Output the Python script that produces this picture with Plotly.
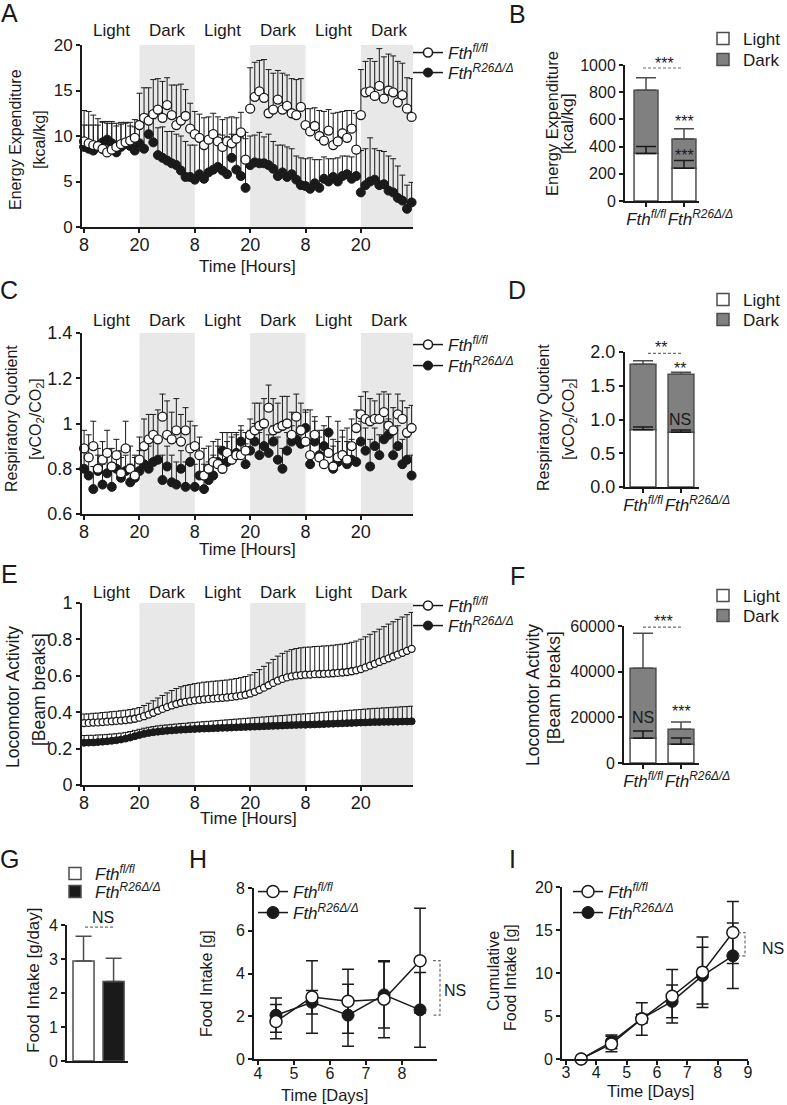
import plotly.graph_objects as go

W, H = 787, 1105
FONT = "Liberation Sans, Arial, sans-serif"
INK = "#1a1a1a"
BAR_EDGE = "#4d4d4d"

# ---- time course panels (A, C, E) ----
hours = list(range(72))
hour_ticks = [0, 12, 24, 36, 48, 60]
hour_labels = ["8", "20", "8", "20", "8", "20"]
phase_mid = [6, 18, 30, 42, 54, 66]
phase_names = ["Light", "Dark", "Light", "Dark", "Light", "Dark"]
dark_spans = [(12, 24), (36, 48), (60, 72)]

ee_open = [9.4, 9.2, 9.0, 8.9, 8.6, 8.2, 8.5, 8.8, 9.1, 9.3, 9.5, 9.8,
           11.2, 12.0, 11.7, 12.4, 12.9, 12.0, 13.4, 12.3, 11.2, 11.7, 12.2, 10.8,
           10.2, 9.8, 9.0, 9.6, 10.2, 9.4, 8.8, 9.4, 9.2, 9.7, 10.4, 7.4,
           13.0, 14.3, 14.9, 14.2, 12.5, 12.9, 14.0, 12.9, 13.3, 12.5, 12.3, 13.2,
           11.2, 10.5, 11.1, 10.0, 9.5, 10.6, 9.0, 9.4, 10.3, 9.8, 10.8, 8.5,
           12.3, 14.8, 14.9, 14.4, 15.5, 14.1, 15.0, 14.8, 13.7, 14.5, 13.0, 12.1]
ee_open_err = [3.4, 3.5, 3.3, 3.0, 3.0, 3.2, 2.9, 2.6, 2.4, 2.2, 2.0, 2.0,
               3.5, 3.3, 3.6, 3.8, 3.4, 4.0, 3.0, 3.3, 4.4, 4.0, 2.9, 2.8,
               2.5, 2.6, 3.0, 2.5, 2.3, 2.7, 3.0, 2.6, 2.9, 2.3, 2.2, 3.0,
               4.5, 3.8, 3.4, 4.2, 4.8, 4.0, 3.2, 4.0, 3.4, 3.8, 3.9, 3.1,
               1.8, 2.5, 2.0, 2.8, 3.2, 2.3, 3.5, 3.2, 2.4, 3.0, 2.0, 4.0,
               5.0, 3.4, 3.6, 3.8, 4.1, 4.6, 4.0, 4.0, 4.5, 3.5, 3.4, 4.2]
ee_fill = [8.8, 8.6, 8.4, 8.9, 9.3, 9.6, 9.2, 8.2, 8.8, 9.1, 8.9, 8.4,
           9.2, 8.6, 10.2, 9.3, 7.9, 7.6, 7.3, 7.0, 6.8, 6.2, 5.5, 5.5,
           5.2, 5.8, 5.3, 6.0, 6.3, 6.6, 6.2, 5.8, 7.6, 6.3, 5.6, 4.3,
           6.8, 7.1, 7.0, 7.0, 6.8, 6.4, 5.6, 6.0, 5.5, 5.8, 5.2, 4.6,
           4.5, 4.2, 4.8, 4.3, 5.3, 5.0, 5.5, 5.0, 5.6, 5.8, 5.3, 5.6,
           3.8, 4.6, 5.0, 5.2, 4.6, 4.7, 4.0, 3.8, 3.2, 2.9, 2.0, 2.7]
ee_fill_err = [2.4, 2.6, 2.8, 2.3, 2.2, 2.0, 2.4, 2.9, 2.5, 2.3, 2.2, 2.6,
               2.5, 3.0, 2.2, 2.6, 3.0, 3.4, 3.2, 3.5, 3.4, 3.8, 3.9, 3.5,
               3.8, 3.6, 4.0, 3.5, 3.4, 3.6, 3.9, 4.1, 2.6, 3.8, 4.2, 5.4,
               3.2, 3.0, 3.4, 2.9, 3.4, 3.0, 3.4, 3.0, 3.3, 2.8, 2.6, 3.0,
               3.0, 3.4, 2.6, 3.1, 2.4, 2.5, 2.0, 2.6, 2.2, 2.0, 2.4, 2.5,
               4.6, 4.0, 4.8, 3.4, 3.8, 3.6, 3.8, 3.7, 3.5, 2.8, 2.6, 2.2]

rq_open = [0.89, 0.85, 0.90, 0.80, 0.84, 0.87, 0.81, 0.86, 0.78, 0.89, 0.80, 0.77,
           0.84, 0.90, 0.93, 0.95, 0.93, 1.03, 0.95, 0.93, 0.97, 0.92, 0.97, 0.89,
           0.90, 0.86, 0.77, 0.80, 0.83, 0.82, 0.80, 0.87, 0.84, 0.86, 0.86, 0.88,
           0.95, 0.97, 0.99, 1.00, 1.07, 0.97, 0.98, 0.99, 1.00, 0.95, 1.03, 0.97,
           0.92, 0.86, 0.95, 0.85, 0.82, 0.87, 0.81, 0.85, 0.86, 0.84, 0.90, 0.98,
           1.04, 1.02, 1.01, 1.02, 1.02, 1.05, 0.99, 0.97, 1.04, 1.02, 0.96, 0.98]
rq_open_err = [0.08, 0.10, 0.11, 0.09, 0.08, 0.10, 0.08, 0.07, 0.10, 0.12, 0.10, 0.09,
               0.10, 0.12, 0.11, 0.09, 0.13, 0.10, 0.15, 0.12, 0.14, 0.12, 0.10, 0.12,
               0.09, 0.08, 0.12, 0.10, 0.09, 0.11, 0.08, 0.09, 0.12, 0.10, 0.11, 0.08,
               0.07, 0.12, 0.10, 0.11, 0.10, 0.14, 0.11, 0.13, 0.12, 0.10, 0.10, 0.12,
               0.13, 0.20, 0.08, 0.12, 0.15, 0.10, 0.12, 0.16, 0.11, 0.14, 0.12, 0.08,
               0.08, 0.12, 0.10, 0.08, 0.11, 0.09, 0.14, 0.10, 0.09, 0.08, 0.11, 0.10]
rq_fill = [0.80, 0.77, 0.71, 0.79, 0.73, 0.78, 0.72, 0.80, 0.76, 0.79, 0.74, 0.76,
           0.79, 0.82, 0.80, 0.83, 0.84, 0.75, 0.81, 0.74, 0.73, 0.80, 0.72, 0.83,
           0.72, 0.77, 0.71, 0.75, 0.77, 0.83, 0.88, 0.83, 0.84, 0.87, 0.92, 0.82,
           0.88, 0.92, 0.86, 0.90, 0.87, 0.92, 0.84, 0.80, 0.88, 0.92, 0.93, 0.91,
           0.98, 0.82, 0.92, 0.86, 0.90, 0.96, 0.80, 0.83, 0.86, 0.82, 0.84, 0.83,
           0.92, 0.88, 0.81, 0.90, 0.86, 0.93, 0.95, 0.86, 0.90, 0.82, 0.84, 0.77]
rq_fill_err = [0.08, 0.09, 0.10, 0.07, 0.09, 0.08, 0.10, 0.06, 0.09, 0.07, 0.08, 0.09,
               0.09, 0.08, 0.10, 0.09, 0.08, 0.11, 0.09, 0.12, 0.10, 0.08, 0.11, 0.07,
               0.10, 0.09, 0.11, 0.08, 0.09, 0.07, 0.08, 0.09, 0.10, 0.08, 0.07, 0.09,
               0.09, 0.08, 0.10, 0.09, 0.08, 0.07, 0.10, 0.09, 0.08, 0.07, 0.09, 0.08,
               0.08, 0.10, 0.09, 0.08, 0.09, 0.07, 0.10, 0.09, 0.08, 0.10, 0.09, 0.08,
               0.09, 0.10, 0.12, 0.08, 0.09, 0.08, 0.07, 0.10, 0.09, 0.11, 0.10, 0.09]

loco_open = [0.340, 0.341, 0.343, 0.344, 0.346, 0.348, 0.350, 0.352, 0.354, 0.357, 0.360, 0.364,
             0.370, 0.378, 0.387, 0.397, 0.408, 0.418, 0.428, 0.437, 0.445, 0.452, 0.457, 0.461,
             0.465, 0.468, 0.471, 0.473, 0.475, 0.477, 0.479, 0.481, 0.484, 0.487, 0.491, 0.496,
             0.503, 0.512, 0.523, 0.535, 0.548, 0.561, 0.573, 0.583, 0.591, 0.597, 0.601, 0.604,
             0.606, 0.607, 0.609, 0.610, 0.611, 0.612, 0.614, 0.616, 0.618, 0.621, 0.625, 0.630,
             0.637, 0.646, 0.656, 0.666, 0.676, 0.686, 0.696, 0.706, 0.716, 0.726, 0.737, 0.748]
loco_open_err = [0.050, 0.050, 0.051, 0.051, 0.052, 0.052, 0.053, 0.053, 0.054, 0.054, 0.055, 0.055,
                 0.056, 0.059, 0.062, 0.066, 0.070, 0.074, 0.078, 0.082, 0.085, 0.088, 0.090, 0.091,
                 0.092, 0.093, 0.094, 0.094, 0.095, 0.095, 0.096, 0.096, 0.097, 0.098, 0.099, 0.100,
                 0.102, 0.106, 0.111, 0.117, 0.123, 0.129, 0.135, 0.140, 0.144, 0.147, 0.149, 0.150,
                 0.151, 0.151, 0.152, 0.152, 0.153, 0.153, 0.154, 0.155, 0.156, 0.157, 0.159, 0.161,
                 0.164, 0.168, 0.172, 0.176, 0.180, 0.184, 0.188, 0.191, 0.194, 0.197, 0.199, 0.200]
loco_fill = [0.232, 0.233, 0.234, 0.236, 0.238, 0.240, 0.243, 0.246, 0.250, 0.255, 0.261, 0.268,
             0.275, 0.281, 0.286, 0.290, 0.293, 0.296, 0.298, 0.300, 0.302, 0.304, 0.305, 0.307,
             0.308, 0.309, 0.310, 0.311, 0.312, 0.313, 0.314, 0.315, 0.316, 0.317, 0.318, 0.319,
             0.320, 0.321, 0.322, 0.323, 0.324, 0.325, 0.326, 0.327, 0.328, 0.329, 0.330, 0.331,
             0.331, 0.332, 0.333, 0.334, 0.335, 0.336, 0.337, 0.338, 0.339, 0.340, 0.341, 0.342,
             0.343, 0.344, 0.345, 0.346, 0.346, 0.347, 0.347, 0.348, 0.348, 0.349, 0.349, 0.350]
loco_fill_err = [0.040, 0.040, 0.039, 0.039, 0.038, 0.038, 0.037, 0.036, 0.035, 0.034, 0.033, 0.032,
                 0.031, 0.031, 0.031, 0.031, 0.032, 0.032, 0.032, 0.033, 0.033, 0.034, 0.034, 0.035,
                 0.036, 0.037, 0.038, 0.039, 0.040, 0.041, 0.042, 0.043, 0.044, 0.045, 0.046, 0.047,
                 0.048, 0.049, 0.050, 0.051, 0.052, 0.053, 0.054, 0.055, 0.056, 0.057, 0.058, 0.059,
                 0.060, 0.061, 0.062, 0.063, 0.064, 0.065, 0.066, 0.067, 0.068, 0.069, 0.070, 0.071,
                 0.072, 0.073, 0.074, 0.075, 0.076, 0.077, 0.078, 0.079, 0.080, 0.081, 0.082, 0.083]

# ---- stacked totals (B, D, F): [fl/fl, R26] ----
genotypes = ["<i>Fth<sup>fl/fl</sup></i>", "<i>Fth<sup>R26Δ/Δ</sup></i>"]
bar_ticks = [genotypes[0], "\u00a0" * 7 + genotypes[1]]
ee_light, ee_light_err = [350, 240], [50, 57]
ee_dark, ee_dark_err = [465, 216], [92, 76]
rq_light, rq_light_err = [0.85, 0.81], [0.04, 0.035]
rq_dark, rq_dark_err = [0.97, 0.86], [0.05, 0.03]
loco_light, loco_light_err = [10800, 8200], [3200, 2700]
loco_dark, loco_dark_err = [30700, 6600], [15300, 3200]

# ---- food intake (G, H, I) ----
food_daily = [2.94, 2.34]
food_daily_err = [0.73, 0.68]
days = [4.5, 5.5, 6.5, 7.5, 8.5]
food_open = [1.75, 2.9, 2.7, 2.8, 4.6]
food_open_err = [0.8, 1.7, 1.5, 1.8, 2.45]
food_fill = [2.05, 2.65, 2.05, 3.0, 2.3]
food_fill_err = [0.8, 0.55, 1.45, 1.55, 1.75]
cum_days = [3.5, 4.5, 5.5, 6.5, 7.5, 8.5]
cum_open = [0, 1.75, 4.65, 7.3, 10.1, 14.7]
cum_open_err = [0, 0.9, 1.9, 3.1, 4.1, 3.6]
cum_fill = [0, 2.0, 4.7, 6.7, 9.7, 12.0]
cum_fill_err = [0, 0.8, 0.5, 1.9, 3.3, 3.8]


def fx(p):
    return p / W


def fy(p):
    return 1 - p / H


def ax_names(n):
    s = "" if n == 1 else str(n)
    return "x" + s, "y" + s, "xaxis" + s, "yaxis" + s


def axis_style(size, standoff=0):
    return dict(showline=True, linecolor=INK, linewidth=2, ticks="outside", ticklen=4,
                tickwidth=2, tickcolor=INK, showgrid=False, zeroline=False,
                ticklabelstandoff=standoff,
                tickfont=dict(size=size, family=FONT, color=INK))


def note(text, x, y, size=16, angle=0, xanchor="center"):
    return dict(text=text, x=fx(x), y=fy(y), xref="paper", yref="paper", showarrow=False,
                textangle=angle, xanchor=xanchor, yanchor="middle",
                font=dict(size=size, family=FONT, color=INK))


fig = go.Figure()
layout = {}
annotations = []
shapes = []
legend_count = [0]


def legend_at(x_px, y_px, size=17):
    legend_count[0] += 1
    key = "legend" if legend_count[0] == 1 else "legend%d" % legend_count[0]
    layout[key] = dict(x=fx(x_px - 20), y=fy(y_px), xanchor="left", yanchor="middle",
                       bgcolor="rgba(0,0,0,0)", borderwidth=0,
                       font=dict(size=size, family=FONT, color=INK))
    return key


def open_marker(size, lw):
    return dict(size=size, color="white", line=dict(color=INK, width=lw))


def fill_marker(size):
    return dict(size=size, color=INK, line=dict(color=INK, width=1))


def time_panel(n, dom_x, dom_y, yrange, dtick, series, yfont, msize, phase_y, legend_y):
    xa, ya, xk, yk = ax_names(n)
    op, op_err, fl, fl_err = series
    zeros = [0] * len(hours)
    fig.add_trace(go.Scatter(x=hours, y=fl, mode="markers", marker=fill_marker(msize),
                             error_y=dict(type="data", symmetric=False, array=fl_err, arrayminus=zeros,
                                          color=INK, thickness=1, width=3),
                             xaxis=xa, yaxis=ya, showlegend=False, cliponaxis=False))
    fig.add_trace(go.Scatter(x=hours, y=op, mode="markers", marker=open_marker(msize, 1.3),
                             error_y=dict(type="data", symmetric=False, array=op_err, arrayminus=zeros,
                                          color=INK, thickness=1, width=3),
                             xaxis=xa, yaxis=ya, showlegend=False, cliponaxis=False))
    fig.add_trace(go.Scatter(x=[None], y=[None], mode="lines+markers", name=genotypes[0],
                             marker=open_marker(9, 1.5), line=dict(color=INK, width=1.5),
                             xaxis=xa, yaxis=ya, legend=legend_at(428, legend_y[0])))
    fig.add_trace(go.Scatter(x=[None], y=[None], mode="lines+markers", name=genotypes[1],
                             marker=fill_marker(9), line=dict(color=INK, width=1.5),
                             xaxis=xa, yaxis=ya, legend=legend_at(428, legend_y[1])))
    layout[xk] = dict(domain=[fx(dom_x[0]), fx(dom_x[1])], range=[-0.45, 71.3], anchor=ya,
                      tickvals=hour_ticks, ticktext=hour_labels, **axis_style(18, -4))
    layout[yk] = dict(domain=[fy(dom_y[1]), fy(dom_y[0])], range=yrange, dtick=dtick, anchor=xa,
                      **axis_style(yfont))
    for x0, x1 in dark_spans:
        shapes.append(dict(type="rect", xref=xa, yref=ya + " domain", x0=x0, x1=x1, y0=0, y1=1,
                           fillcolor="#e8e8e8", line=dict(width=0), layer="below"))
    for xm, label in zip(phase_mid, phase_names):
        annotations.append(dict(text=label, x=xm, y=fy(phase_y), xref=xa, yref="paper",
                                showarrow=False, yanchor="middle",
                                font=dict(size=17, family=FONT, color=INK)))


def stacked_panel(n, dom_x, dom_y, xrange, bar_w, light, light_err, dark, dark_err,
                  yrange, dtick, tickformat, yfont, legend_y):
    xa, ya, xk, yk = ax_names(n)
    fig.add_trace(go.Bar(x=[0, 1], y=dark, base=light, width=bar_w, name="Dark",
                         marker=dict(color="#808080", line=dict(color=BAR_EDGE, width=1.5)),
                         error_y=dict(type="data", symmetric=False, array=dark_err, arrayminus=[0, 0],
                                      color=BAR_EDGE, thickness=1.5, width=10),
                         xaxis=xa, yaxis=ya, legend=legend_at(723, legend_y[1])))
    fig.add_trace(go.Bar(x=[0, 1], y=light, width=bar_w, name="Light",
                         marker=dict(color="white", line=dict(color=BAR_EDGE, width=1.5)),
                         error_y=dict(type="data", symmetric=False, array=light_err, arrayminus=[0, 0],
                                      color=INK, thickness=1.5, width=10),
                         xaxis=xa, yaxis=ya, legend=legend_at(723, legend_y[0])))
    layout[xk] = dict(domain=[fx(dom_x[0]), fx(dom_x[1])], range=xrange, anchor=ya, tickangle=0,
                      tickvals=[0, 1], ticktext=bar_ticks, **axis_style(17, -2))
    layout[yk] = dict(domain=[fy(dom_y[1]), fy(dom_y[0])], range=yrange, dtick=dtick, anchor=xa,
                      tickformat=tickformat, **axis_style(yfont))


time_panel(1, (82, 413), (45, 227), [0, 20], 5, (ee_open, ee_open_err, ee_fill, ee_fill_err),
           17, 9, 30, (53, 73))
stacked_panel(2, (625, 699), (65, 201), [-0.553, 1.395], 0.63, ee_light, ee_light_err,
              ee_dark, ee_dark_err, [0, 1000], 200, "d", 16, (39, 60))
time_panel(3, (82, 413), (333, 514), [0.6, 1.4], 0.2, (rq_open, rq_open_err, rq_fill, rq_fill_err),
           18, 9, 320, (345, 366))
stacked_panel(4, (625, 699), (352, 487), [-0.474, 1.474], 0.68, rq_light, rq_light_err,
              rq_dark, rq_dark_err, [0, 2], 0.5, ".1f", 18, (300, 320))
time_panel(5, (82, 413), (603, 785), [0, 1], 0.2, (loco_open, loco_open_err, loco_fill, loco_fill_err),
           18, 7, 592, (606, 626))
stacked_panel(6, (624, 699), (626, 763), [-0.5, 1.474], 0.68, loco_light, loco_light_err,
              loco_dark, loco_dark_err, [0, 60000], 20000, "d", 16, (596, 616))

# G: daily food intake bars
fig.add_trace(go.Bar(x=[0], y=food_daily[:1], width=0.7, name=genotypes[0],
                     marker=dict(color="white", line=dict(color=BAR_EDGE, width=1.5)),
                     error_y=dict(type="data", symmetric=False, array=food_daily_err[:1], arrayminus=[0],
                                  color=BAR_EDGE, thickness=1.5, width=8),
                     xaxis="x7", yaxis="y7", legend=legend_at(75, 874)))
fig.add_trace(go.Bar(x=[1], y=food_daily[1:], width=0.7, name=genotypes[1],
                     marker=dict(color=INK, line=dict(color=BAR_EDGE, width=1.5)),
                     error_y=dict(type="data", symmetric=False, array=food_daily_err[1:], arrayminus=[0],
                                  color=BAR_EDGE, thickness=1.5, width=8),
                     xaxis="x7", yaxis="y7", legend=legend_at(75, 892)))
layout["xaxis7"] = dict(domain=[fx(67), fx(128)], range=[-0.55, 1.48], anchor="y7",
                        **{**axis_style(16), "ticks": "", "showticklabels": False})
layout["yaxis7"] = dict(domain=[fy(1061), fy(925)], range=[0, 4], dtick=1, anchor="x7", **axis_style(16))

# H and I: daily and cumulative food intake
for n, xs, op, op_err, fl, fl_err, xr, yr, dt, lx, so in [
    (8, days, food_open, food_open_err, food_fill, food_fill_err, [3.89, 8.97], [0, 8], 2, 273, -5),
    (9, cum_days, cum_open, cum_open_err, cum_fill, cum_fill_err, [2.87, 9.0], [0, 20], 5, 588, -6),
]:
    xa, ya, xk, yk = ax_names(n)
    fig.add_trace(go.Scatter(x=xs, y=fl, mode="lines+markers", name=genotypes[1],
                             marker=fill_marker(12), line=dict(color=INK, width=1.5),
                             error_y=dict(type="data", array=fl_err, color=INK, thickness=1.5, width=6),
                             xaxis=xa, yaxis=ya, cliponaxis=False, legend=legend_at(lx, 913)))
    fig.add_trace(go.Scatter(x=xs, y=op, mode="lines+markers", name=genotypes[0],
                             marker=open_marker(12, 1.5), line=dict(color=INK, width=1.5),
                             error_y=dict(type="data", array=op_err, color=INK, thickness=1.5, width=6),
                             xaxis=xa, yaxis=ya, cliponaxis=False, legend=legend_at(lx, 892)))
    layout[xk] = dict(domain=[fx(254 if n == 8 else 562), fx(437 if n == 8 else 748)], range=xr,
                      dtick=1, tick0=0, anchor=ya, **axis_style(16, so))
    layout[yk] = dict(domain=[fy(1059), fy(888 if n == 8 else 887)], range=yr, dtick=dt, anchor=xa,
                      **axis_style(16))

# significance marks
dash = dict(color="#6e6e6e", width=1.2, dash="3px,2px")
shapes += [
    dict(type="line", xref="x2", yref="y2", x0=-0.08, x1=0.97, y0=978, y1=978, line=dash),
    dict(type="line", xref="x4", yref="y4", x0=0.13, x1=1.05, y0=1.98, y1=1.98, line=dash),
    dict(type="line", xref="x6", yref="y6", x0=0.0, x1=1.05, y0=59500, y1=59500, line=dash),
    dict(type="line", xref="x7", yref="y7", x0=0.05, x1=1.02, y0=3.94, y1=3.94, line=dash),
    dict(type="path", xref="paper", yref="y8", line=dash,
         path="M %f,%f L %f,%f L %f,%f L %f,%f" % (fx(433), 4.6, fx(440), 4.6, fx(440), 2.05, fx(433), 2.05)),
    dict(type="path", xref="paper", yref="y9", line=dash,
         path="M %f,%f L %f,%f L %f,%f L %f,%f" % (fx(738), 14.7, fx(745), 14.7, fx(745), 12.0, fx(738), 12.0)),
]
annotations += [
    note("***", 664, 63), note("***", 684, 121), note("***", 684, 156),
    note("**", 661, 347), note("**", 680, 369), note("NS", 680, 419),
    note("***", 663, 621), note("***", 681, 711), note("NS", 643, 717),
    note("NS", 103, 917), note("NS", 455, 990), note("NS", 773, 948),
]

# panel letters
for letter, x, y in [("A", 9, 13), ("B", 517, 14), ("C", 9, 290), ("D", 517, 290),
                     ("E", 9, 574), ("F", 517, 576), ("G", 9, 859), ("H", 198, 859), ("I", 512, 859)]:
    annotations.append(note(letter, x, y, size=25))

# axis titles
annotations += [
    note("Energy Expenditure", 15, 140, 16, -90), note("[kcal/kg]", 39, 140, 16, -90),
    note("Energy Expenditure", 552, 124, 16.5, -90), note("[kcal/kg]", 567, 124, 16.5, -90),
    note("Respiratory Quotient", 11, 419, 16, -90), note("[vCO<sub>2</sub>/CO<sub>2</sub>]", 36, 419, 16, -90),
    note("Respiratory Quotient", 543, 418, 16, -90), note("[vCO<sub>2</sub>/CO<sub>2</sub>]", 569, 419, 16, -90),
    note("Locomotor Activity", 13, 697, 17.5, -90), note("[Beam breaks]", 39, 690, 17.5, -90),
    note("Locomotor Activity", 533, 695, 17.5, -90), note("[Beam breaks]", 554, 688, 17.5, -90),
    note("Food Intake [g/day]", 33, 980, 17, -90),
    note("Food Intake [g]", 207, 984, 16, -90),
    note("Cumulative", 493, 971, 16, -90), note("Food Intake [g]", 510, 977, 16, -90),
    note("Time [Hours]", 247, 266, 17), note("Time [Hours]", 247, 549, 17), note("Time [Hours]", 248, 818, 17),
    note("Time [Days]", 324, 1095, 16.5), note("Time [Days]", 650, 1091, 16.5),
]

fig.update_layout(
    width=W, height=H, margin=dict(l=0, r=0, t=0, b=0, autoexpand=False),
    paper_bgcolor="white", plot_bgcolor="white",
    font=dict(family=FONT, color=INK), barmode="overlay",
    annotations=annotations, shapes=shapes, **layout,
)
# the page body has a default 8px margin; drop it so the figure fills the window
fig.write_html("out.html", config={"displayModeBar": False},
               post_script="document.body.style.margin = '0px';")
